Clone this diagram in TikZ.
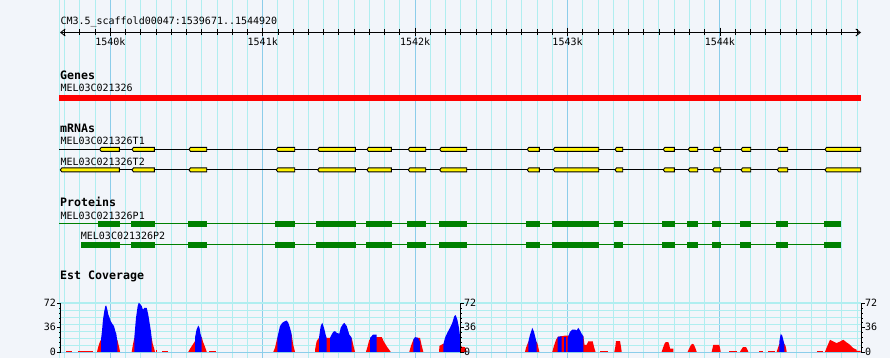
\documentclass[tikz,border=0pt]{standalone}
\usepackage{fontspec}
\setmonofont{DejaVu Sans Mono}
\usetikzlibrary{arrows.meta}

\definecolor{bg}{HTML}{F2F5FA}
\definecolor{gridminor}{HTML}{B0EEF0}
\definecolor{gridmajor}{HTML}{8CCDEA}
\definecolor{protgreen}{HTML}{008000}
\definecolor{covred}{HTML}{FF0000}
\definecolor{covblue}{HTML}{0000FF}

\tikzset{
  lbl/.style={anchor=base west, inner sep=0pt, font=\ttfamily\fontsize{10}{10}\selectfont},
  ttl/.style={anchor=base west, inner sep=0pt, font=\ttfamily\bfseries\fontsize{11.6}{11.6}\selectfont},
  exon/.style={draw=black, fill=yellow, line width=0.9pt},
  cds/.style={fill=protgreen},
  vgrid/.style={gridminor, line width=1pt},
}

\begin{document}
\begin{tikzpicture}[x=1pt, y=-1pt, >={Straight Barb[length=4.5pt,width=7pt]}]
  \fill[bg] (0,0) rectangle (890,358);
  \useasboundingbox (0,0) rectangle (890,358);

  \draw[vgrid] (59.5,0) -- (59.5,358);
  \foreach \i in {0,...,52}
    \draw[vgrid] ({64.62+15.24*\i},0) -- ({64.62+15.24*\i},358);
  \foreach \i in {3,13,23,33,43}
    \draw[gridmajor, line width=1pt] ({64.62+15.24*\i},0) -- ({64.62+15.24*\i},358);

  \coordinate (rulerL) at (60,32.5);
  \coordinate (rulerR) at (861,32.5);
  \draw[line width=0.9pt, <->] (rulerL) -- (rulerR);
  \foreach \i in {0,...,52}
    \draw[line width=0.9pt] ({64.62+15.24*\i},29.3) -- ++(0,6);
  \foreach \i/\t in {3/1540k, 13/1541k, 23/1542k, 33/1543k, 43/1544k} {
    \draw[line width=0.9pt] ({64.62+15.24*\i},27.7) -- ++(0,8.3);
    \node[lbl, anchor=base] (tick\i) at ({64.62+15.24*\i},45.7) {\t};
  }
  \node[lbl] (region) at (60.3,25) {CM3.5\_scaffold00047:1539671..1544920};

  \node[ttl] (genes) at (60,80) {Genes};
  \node[lbl] (gene) at (60.3,91.7) {MEL03C021326};
  \fill[covred] (59,95) rectangle (861,101);

  \node[ttl] (mrnas) at (60,132.3) {mRNAs};
  \node[lbl] (tOne) at (60.3,145) {MEL03C021326T1};
  \node[lbl] (tTwo) at (60.3,165) {MEL03C021326T2};
  \draw[line width=0.9pt] (59.3,149.4) -- (861,149.4);
  \draw[line width=0.9pt] (60.3,169.9) -- (861,169.9);
  \foreach \a/\b in {99.7/119.3, 132/154.3, 189/206.7, 276.3/294.7, 317.7/355.3,
      367/391.3, 408.3/425.7, 439.7/466.7, 527.3/539.3, 553.3/598.7, 615/622.7,
      663.3/674.3, 688.3/697.7, 712.7/720.7, 741/750.7, 777.3/787.7, 825/860.7}
    \draw[exon] (\a+1.5,147.4) -- (\b,147.4) -- (\b,151.4) -- (\a+1.5,151.4) -- (\a,149.4) -- cycle;
  \foreach \a/\b in {60.3/119.3, 132/154.3, 189/206.7, 276.3/294.7, 317.7/355.3,
      367/391.3, 408.3/425.7, 439.7/466.7, 527.3/539.3, 553.3/598.7, 615/622.7,
      663.3/674.3, 688.3/697.7, 712.7/720.7, 741/750.7, 777.3/787.7, 825/860.7}
    \draw[exon] (\a+1.5,167.9) -- (\b,167.9) -- (\b,171.9) -- (\a+1.5,171.9) -- (\a,169.9) -- cycle;

  \node[ttl] (proteins) at (60,206) {Proteins};
  \node[lbl] (pOne) at (60.3,219) {MEL03C021326P1};
  \node[lbl] (pTwo) at (80.7,239) {MEL03C021326P2};
  \draw[protgreen, line width=1pt] (59.3,223.8) -- (841,223.8);
  \draw[protgreen, line width=1pt] (81,244.8) -- (841,244.8);
  \foreach \a/\b in {98.3/119.7, 131/155, 188/207, 275/295, 315.7/356, 366/392,
      407/426, 439/467, 526/540, 552/599, 614/623, 662/675, 687/698, 712/721,
      740/751, 776/788, 824/841}
    \fill[cds] (\a,221) rectangle (\b,226.7);
  \foreach \a/\b in {81/119.7, 131/155, 188/207, 275/295, 315.7/356, 366/392,
      407/426, 439/467, 526/540, 552/599, 614/623, 662/675, 687/698, 712/721,
      740/751, 776/788, 824/841}
    \fill[cds] (\a,242) rectangle (\b,247.7);

  \node[ttl] (estcov) at (60,279.5) {Est Coverage};
  \foreach \y in {310.3,317.3,324.3,331.3,338.3,345.3}
    \draw[gridminor, line width=1pt] (60,\y) -- (861,\y);
  \draw[gridminor, line width=2pt] (60,303.3) -- (861,303.3);
  \draw[gridmajor, line width=1.2pt] (60,352.4) -- (861,352.4);

  \begin{scope}[shift={(0,351.8)}, y=1pt]
    \fill[covred] plot coordinates {(66,0) (66,1.3) (71.7,1.3) (71.7,0)} -- cycle;
    \fill[covred] plot coordinates {(78.3,0) (78.3,1.3) (92.7,1.3) (92.7,0)} -- cycle;
    \fill[covred] plot coordinates {(97,0) (98,4) (99.5,9) (101,12.3) (117.3,12) (118.3,8) (119.3,4) (120,0)} -- cycle;
    \fill[covred] plot coordinates {(131.7,0) (132.7,6) (133.7,11) (134.3,14) (151.7,14) (152.7,8) (154,4) (155,0)} -- cycle;
    \fill[covred] plot coordinates {(156,0) (156,2) (157.3,2) (157.3,0)} -- cycle;
    \fill[covred] plot coordinates {(161.7,0) (161.7,1.3) (168.3,1.3) (168.3,0)} -- cycle;
    \fill[covred] plot coordinates {(188.3,0) (190,3) (192,6) (195,10.7) (201.7,15) (203,10) (205,5) (206.7,0)} -- cycle;
    \fill[covred] plot coordinates {(209,0) (209,1.3) (215.7,1.3) (215.7,0)} -- cycle;
    \fill[covred] plot coordinates {(273.3,0) (275,4) (277.3,14) (291.7,17.3) (293,8) (295,0)} -- cycle;
    \fill[covred] plot coordinates {(315,0) (315,2) (316.7,10.7) (319,14) (351.7,14) (353,8) (355,0)} -- cycle;
    \fill[covred] plot coordinates {(366,0) (367.5,5) (369.3,12) (376.7,14.7) (381.7,14.7) (384,10) (387,5) (390.7,0)} -- cycle;
    \fill[covred] plot coordinates {(409.3,0) (411,6) (413.3,12) (415,14) (420,14) (421.5,7) (423.3,0)} -- cycle;
    \fill[covred] plot coordinates {(439,0) (439.5,6) (443.3,8) (460,8) (461.7,5) (465,4.7) (466.7,0)} -- cycle;
    \fill[covred] plot coordinates {(525,0) (526,4) (528.3,10) (536.7,10) (537.5,8) (539.3,0)} -- cycle;
    \fill[covred] plot coordinates {(552.3,0) (554,6) (556,12) (558,15) (566,16.3) (583.3,16) (584.5,7) (586.7,7) (588.3,10.5) (592.7,10.5) (594,5) (595.5,0)} -- cycle;
    \fill[covred] plot coordinates {(600,0) (600,1.3) (607.7,1.3) (607.7,0)} -- cycle;
    \fill[covred] plot coordinates {(614.3,0) (615.3,5) (616,10.7) (620,10.7) (621,5) (621.7,0)} -- cycle;
    \fill[covred] plot coordinates {(661.7,0) (663,4) (664.5,8) (665.7,9.7) (668.3,9.7) (669.5,6) (670,3.3) (673.3,3.3) (673.3,0)} -- cycle;
    \fill[covred] plot coordinates {(687.7,0) (689,3) (691,7) (692.7,8) (694,7) (695.5,3.3) (696.7,0)} -- cycle;
    \fill[covred] plot coordinates {(711.7,0) (713.3,7) (719.3,7) (720.7,0)} -- cycle;
    \fill[covred] plot coordinates {(729,0) (729,1.3) (736.7,1.3) (736.7,0)} -- cycle;
    \fill[covred] plot coordinates {(740,0) (741.5,2.5) (743,4.7) (746,4.7) (747.5,2) (748.3,0)} -- cycle;
    \fill[covred] plot coordinates {(759,0) (759,1.3) (762.7,1.3) (762.7,0)} -- cycle;
    \fill[covred] plot coordinates {(768.3,0) (768.3,1.3) (775,1.3) (775,0)} -- cycle;
    \fill[covred] plot coordinates {(776.7,0) (778,4) (779.3,8) (784.3,8) (785.5,6) (786.7,0)} -- cycle;
    \fill[covred] plot coordinates {(816.7,0) (816.7,1.3) (823.3,1.3) (823.3,0)} -- cycle;
    \fill[covred] plot coordinates {(825,0) (827,5) (830,12) (833.3,10.3) (836.7,8.7) (840,10.3) (843.3,12) (846.7,9.3) (850,7) (853.3,3.7) (856.7,2) (856.7,1) (860.7,1) (860.7,0)} -- cycle;

    \fill[covblue] plot coordinates {(101,0) (101,12.3) (102,20.7) (103,32.3) (104.3,40.7) (105.3,45.7) (106.3,46.3) (107.3,42.3) (108.3,37.3) (109.3,34.7) (110.7,30.7) (112.3,28) (114,25.7) (115.3,20.7) (116.3,18) (117.3,10.7) (117.3,0)} -- cycle;
    \fill[covblue] plot coordinates {(134.3,0) (134.3,14) (136,34) (137.7,45.7) (138.7,49) (140,48) (141.7,45.7) (143,42) (144.3,44) (146.7,44) (148.3,37) (150.7,22) (151.7,14) (151.7,0)} -- cycle;
    \fill[covblue] plot coordinates {(195,0) (195,14) (196.5,22) (198.3,26.3) (199.5,24) (200.5,18) (201.7,14) (201.7,0)} -- cycle;
    \fill[covblue] plot coordinates {(277.3,0) (277.3,14) (280,25.7) (282.3,29) (285,30.7) (286.7,31.3) (288.3,29) (290,24) (291.7,17.3) (291.7,0)} -- cycle;
    \fill[covblue] plot coordinates {(319,0) (319,14) (320.7,25.7) (322.3,29) (324,24) (326,15.7) (326.7,14) (326.7,0)} -- cycle;
    \fill[covblue] plot coordinates {(330,0) (330,14) (331.5,17) (333.3,20) (335,20.7) (336.7,19) (339.3,18) (340.7,24) (342.7,27.3) (344.3,29) (346.7,25.7) (349.3,17.3) (351.7,14) (351.7,0)} -- cycle;
    \fill[covblue] plot coordinates {(370,0) (370,14) (372,16) (373,17.3) (376.7,17.3) (376.7,0)} -- cycle;
    \fill[covblue] plot coordinates {(413.3,0) (413.3,12) (415,14.7) (418,14) (420,10) (420,0)} -- cycle;
    \fill[covblue] plot coordinates {(443.3,0) (443.3,7.3) (445,14) (447.3,19) (450,24) (452.3,29) (454.3,35.7) (455.7,36.7) (457.3,32.3) (459,24) (460,15.7) (460,0)} -- cycle;
    \fill[covblue] plot coordinates {(528.3,0) (528.3,10) (530,17) (532.3,24) (534,20) (535.5,14) (536.7,9) (536.7,0)} -- cycle;
    \fill[covblue] plot coordinates {(557.7,0) (557.7,15) (561.5,15.5) (561.5,0)} -- cycle;
    \fill[covblue] plot coordinates {(563.5,0) (563.5,14.5) (566,14.5) (566,0)} -- cycle;
    \fill[covblue] plot coordinates {(567.7,0) (567.7,14) (570,20) (572.3,22.3) (575,22.3) (576.7,21.3) (578.3,24) (580,21.3) (581.7,18) (583.3,15.7) (583.3,0)} -- cycle;
    \fill[covblue] plot coordinates {(779.3,0) (779.3,10) (780.7,18) (782.3,16) (784.3,8) (784.3,0)} -- cycle;
  \end{scope}

  \foreach \ax/\s in {60.7/-1, 460/1, 861/1} {
    \draw[line width=0.9pt] (\ax,303) -- (\ax,352.5);
    \foreach \k in {0,...,10}
      \draw[line width=0.8pt] (\ax,{303.3+4.88*\k}) -- ++(2*\s,0);
    \foreach \k in {0,5,10}
      \draw[line width=0.9pt] (\ax,{303.3+4.88*\k}) -- ++(3.5*\s,0);
  }
  \node[lbl, anchor=base east] (lTop) at (56,306.7) {72};
  \node[lbl, anchor=base east] (lMid) at (56,330.7) {36};
  \node[lbl, anchor=base east] (lBot) at (56,355) {0};
  \node[lbl] (mTop) at (464,306.7) {72};
  \node[lbl] (mMid) at (464,330.7) {36};
  \node[lbl] (mBot) at (464,355) {0};
  \node[lbl] (rTop) at (865,306.7) {72};
  \node[lbl] (rMid) at (865,330.7) {36};
  \node[lbl] (rBot) at (865,355) {0};
\end{tikzpicture}
\end{document}
